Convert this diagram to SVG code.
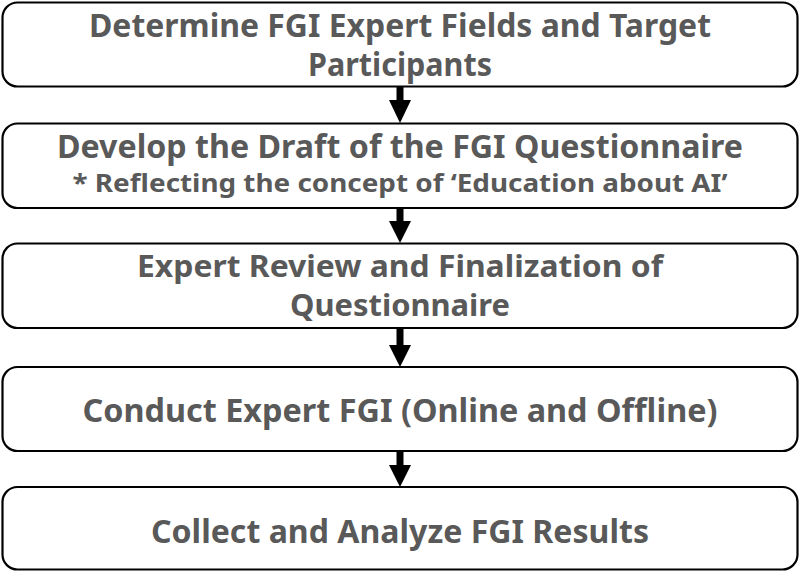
<svg xmlns="http://www.w3.org/2000/svg" width="800" height="572" viewBox="0 0 800 572">
<defs>
<style>
.box{fill:#ffffff;stroke:#000000;stroke-width:2.2}
.t{font-family:"Noto Sans","Liberation Sans",sans-serif;font-weight:bold;fill:#595959;text-anchor:middle}
.big{font-size:32px}
.mid{font-size:30px}
.small{font-size:25px}
.arr{fill:#000000}
</style>
</defs>
<rect width="800" height="572" fill="#ffffff"/>
<g id="connectors">
<g id="a1"><rect class="arr" x="396.5" y="87" width="7" height="14"/><polygon class="arr" points="389,100 411,100 400,123"/></g>
<g id="a2"><rect class="arr" x="396.5" y="208" width="7" height="14"/><polygon class="arr" points="389,221 411,221 400,243"/></g>
<g id="a3"><rect class="arr" x="396.5" y="328" width="7" height="18"/><polygon class="arr" points="389,345 411,345 400,367"/></g>
<g id="a4"><rect class="arr" x="396.5" y="451" width="7" height="15"/><polygon class="arr" points="389,465 411,465 400,487"/></g>
</g>
<g id="n1">
<rect class="box" x="2.5" y="2.5" width="795" height="84" rx="15"/>
<text class="t big" x="400" y="37" textLength="622" lengthAdjust="spacingAndGlyphs">Determine FGI Expert Fields and Target</text>
<text class="t big" x="400" y="76" textLength="184" lengthAdjust="spacingAndGlyphs">Participants</text>
</g>
<g id="n2">
<rect class="box" x="2.5" y="123.5" width="795" height="84.5" rx="15"/>
<text class="t big" x="400" y="158" textLength="686" lengthAdjust="spacingAndGlyphs">Develop the Draft of the FGI Questionnaire</text>
<text class="t small" x="400" y="192" textLength="655" lengthAdjust="spacingAndGlyphs">* Reflecting the concept of ‘Education about AI’</text>
</g>
<g id="n3">
<rect class="box" x="2.5" y="243.5" width="795" height="84.5" rx="15"/>
<text class="t mid" x="400" y="277" textLength="526" lengthAdjust="spacingAndGlyphs">Expert Review and Finalization of</text>
<text class="t mid" x="400" y="316" textLength="220" lengthAdjust="spacingAndGlyphs">Questionnaire</text>
</g>
<g id="n4">
<rect class="box" x="2.5" y="367" width="795" height="84" rx="15"/>
<text class="t big" x="400" y="422" textLength="635" lengthAdjust="spacingAndGlyphs">Conduct Expert FGI (Online and Offline)</text>
</g>
<g id="n5">
<rect class="box" x="2.5" y="487" width="795" height="82.5" rx="15"/>
<text class="t big" x="400" y="543" textLength="498" lengthAdjust="spacingAndGlyphs">Collect and Analyze FGI Results</text>
</g>
</svg>
